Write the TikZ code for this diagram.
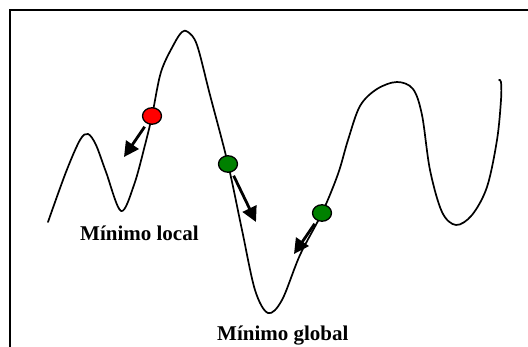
\documentclass[tikz,border=0pt]{standalone}
\usepackage{fontspec}
\setmainfont{Liberation Serif}
\usetikzlibrary{arrows.meta,shapes.geometric}
\definecolor{ballgreen}{RGB}{0,128,0}
\definecolor{ballred}{RGB}{255,0,0}
\tikzset{
  curve/.style={line width=1.7pt, line join=round, line cap=round},
  frameline/.style={line width=2.2pt},
  ball/.style={ellipse, draw=black, line width=1.3pt, minimum width=19pt, minimum height=16.5pt, inner sep=0pt},
  arr/.style={line width=2.8pt, shorten <=13pt, -{Triangle[length=15pt,width=15pt]}},
  lbl/.style={font=\bfseries\fontsize{21}{24}\selectfont, anchor=base west, inner sep=0pt}
}
\begin{document}
\begin{tikzpicture}[x=1pt,y=-1pt]
\useasboundingbox (0,0) rectangle (528,347);
\draw[frameline] (10,347) -- (10,10) -- (528,10);
% landscape curve
\draw[curve] plot[smooth, tension=0.55] coordinates {
  (48,222) (66,172) (80,140) (88,134) (96,145) (106,172) (121,211) (134,185) (145,145) (152,116)
  (161,72) (174,44) (182,32) (188,32) (197,45) (210,95) (228,164) (242,230) (255,290)
  (268,313) (282,300) (300,255) (322,213) (338,174) (348,140) (360,106) (377,89)
  (397,82) (413,89) (422,115) (430,170) (442,212) (456,225) (472,215) (487,187)
  (497,140) (501,100) (501,82) (499,80)};
% balls
\node[ball, fill=ballred] (r) at (152,116) {};
\node[ball, fill=ballgreen] (g1) at (228,164) {};
\node[ball, fill=ballgreen] (g2) at (322,213) {};
% arrow tips
\coordinate (rt) at (124,157);
\coordinate (g1t) at (256,222);
\coordinate (g2t) at (294,254);
\draw[arr] (r.center) -- (rt);
\draw[arr] (g1.center) -- (g1t);
\draw[arr] (g2.center) -- (g2t);
% labels
\node[lbl] (ll) at (80,241) {Mínimo local};
\node[lbl] (lg) at (217,341) {Mínimo global};
\end{tikzpicture}
\end{document}
